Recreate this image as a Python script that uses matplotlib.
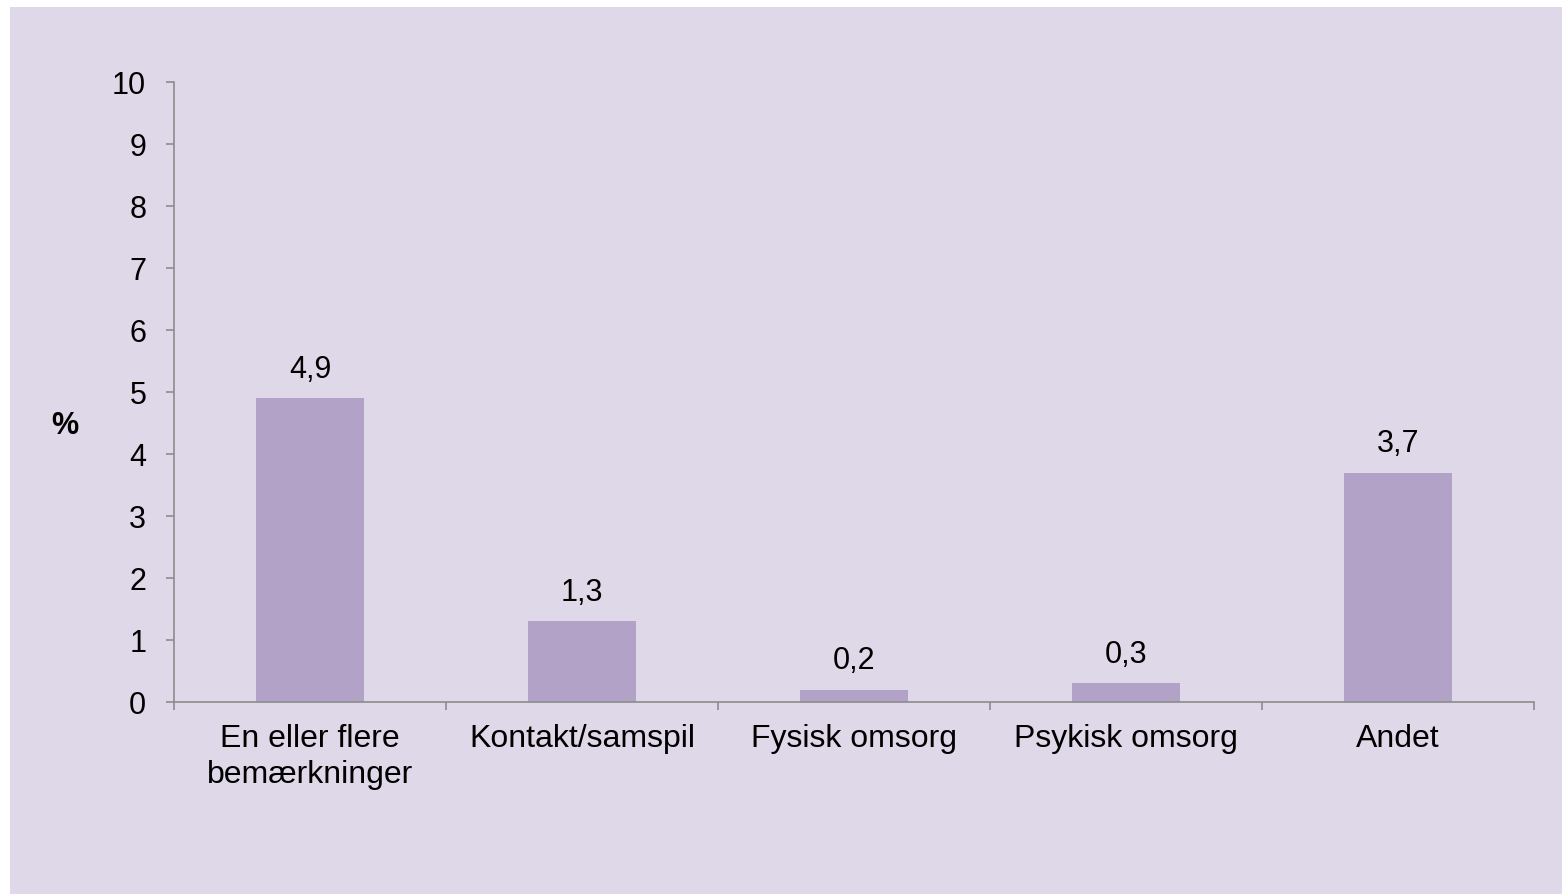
import matplotlib.pyplot as plt
from matplotlib.patches import Rectangle

# Data
categories = ['En eller flere\nbemærkninger', 'Kontakt/samspil', 'Fysisk omsorg',
              'Psykisk omsorg', 'Andet']
values = [4.9, 1.3, 0.2, 0.3, 3.7]
yticks = list(range(0, 11))

plt.rcParams['font.family'] = ['Liberation Sans', 'DejaVu Sans']

bg = '#DFD8E8'
bar_color = '#B2A2C7'
axis_color = '#8C8C8C'
fs = 22
fs_lab = 23

fig = plt.figure(figsize=(15.62, 8.95), dpi=100)
fig.patch.set_facecolor(bg)
# thin white margin on top and left, as in the original
fig.add_artist(Rectangle((0, 1 - 8 / 895), 1, 8 / 895, transform=fig.transFigure,
                         facecolor='white', edgecolor='none', zorder=-10))
fig.add_artist(Rectangle((0, 0), 10 / 1562, 1, transform=fig.transFigure,
                         facecolor='white', edgecolor='none', zorder=-10))

ax = fig.add_axes([174 / 1562, 1 - 703 / 895, (1534 - 174) / 1562, (703 - 83) / 895])
ax.set_facecolor('none')

x = list(range(len(categories)))
ax.bar(x, values, width=0.4, color=bar_color, zorder=2)

for xi, v in zip(x, values):
    ax.text(xi, v + 0.47, f'{v:.1f}'.replace('.', ','), ha='center', va='center',
            fontsize=fs)

ax.set_xlim(-0.5, len(categories) - 0.5)
ax.set_ylim(0, 10)
ax.set_yticks(yticks)
ax.set_yticklabels([str(t) for t in yticks], fontsize=fs)

ax.set_xticks(x)
ax.set_xticklabels(categories, fontsize=fs_lab, linespacing=1.25)
ax.set_xticks([i - 0.5 for i in range(len(categories) + 1)], minor=True)
ax.tick_params(axis='x', which='major', length=0, pad=15)
ax.tick_params(axis='x', which='minor', length=6, color=axis_color, width=1.2)
ax.tick_params(axis='y', length=6, color=axis_color, width=1.2, pad=14)

for side in ['top', 'right']:
    ax.spines[side].set_visible(False)
for side in ['left', 'bottom']:
    ax.spines[side].set_color(axis_color)
    ax.spines[side].set_linewidth(1.2)

ax.set_ylabel('%', fontsize=fs, fontweight='bold', rotation=0, va='center', ha='center')
ax.yaxis.set_label_coords(-0.080, 0.447)

fig.savefig('out.png', dpi=100, facecolor=fig.get_facecolor())
